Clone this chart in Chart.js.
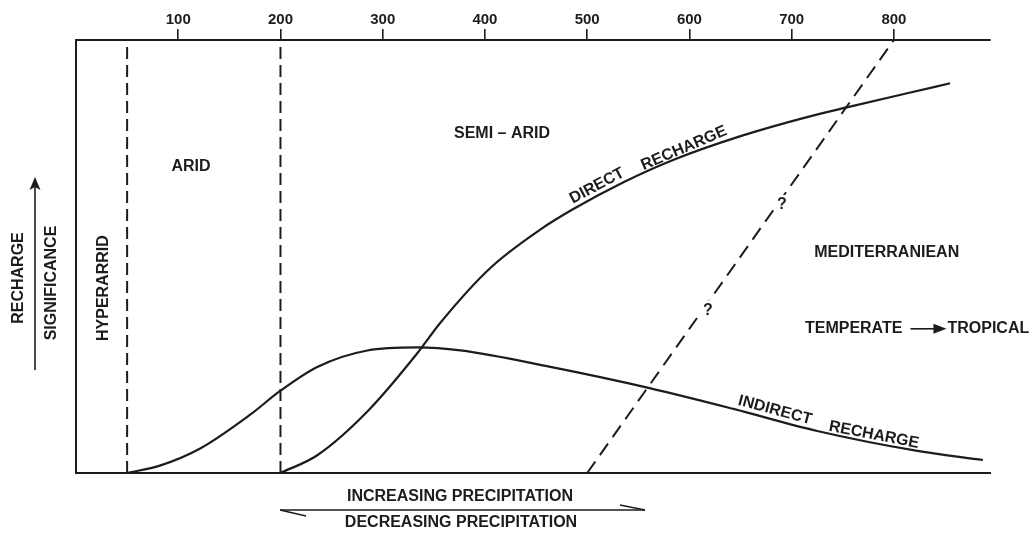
<!DOCTYPE html>
<html>
<head>
<meta charset="utf-8">
<script src="https://cdn.jsdelivr.net/npm/chart.js@4"></script>
<style>
  html, body { margin: 0; padding: 0; background: #fff; }
  #wrap { width: 1032px; height: 538px; }
</style>
</head>
<body>
<div id="wrap"><canvas id="c" width="1032" height="538"></canvas></div>
<script>
// ---- data ----
const xTickValues = [100, 200, 300, 400, 500, 600, 700, 800];
const indirectX = [50, 82, 121, 170, 200, 236, 285, 334, 376, 464, 561, 643, 725, 823, 887];
const indirectY = [0, 1.7, 5.6, 13.4, 19.0, 24.5, 28.3, 29.0, 28.3, 24.5, 19.6, 14.8, 9.7, 5.1, 3.0];
const directX = [200, 236, 285, 334, 356, 405, 454, 486, 535, 584, 650, 715, 757, 813, 855];
const directY = [0, 4.1, 14.2, 27.7, 34.6, 47.3, 56.2, 60.9, 67.1, 72.3, 77.8, 82.2, 84.6, 87.7, 90.0];
const boundaryHyperArid = [50, 50];
const boundaryArid = [200, 200];
const boundaryY = [0, 100];
const mediterraneanX = [500, 800];
const mediterraneanY = [0, 100];

const INK = '#1c1c1c';
const FONT = "bold 16px 'Liberation Sans', Arial, sans-serif";

function pts(xs, ys) { return xs.map((x, i) => ({ x: x, y: ys[i] })); }

const annot = {
  id: 'annot',
  afterDatasetsDraw(chart) {
    const ctx = chart.ctx;
    const sx = chart.scales.x, sy = chart.scales.y;
    const X = v => sx.getPixelForValue(v), Y = v => sy.getPixelForValue(v);
    ctx.save();
    ctx.fillStyle = INK; ctx.strokeStyle = INK;
    ctx.font = FONT;
    ctx.textBaseline = 'middle';
    function txt(s, x, y, rot, align) {
      ctx.save();
      ctx.translate(x, y);
      if (rot) ctx.rotate(rot * Math.PI / 180);
      ctx.textAlign = align || 'center';
      ctx.fillText(s, 0, 0);
      ctx.restore();
    }
    function qmark(x, y) {
      ctx.save();
      ctx.fillStyle = '#fff';
      ctx.fillRect(x - 7, y - 10, 14, 20);
      ctx.restore();
      txt('?', x, y);
    }
    // region labels (data coordinates)
    txt('ARID', X(112.5), Y(70.7));
    txt('SEMI \u2013 ARID', X(416.7), Y(78.5));
    txt('HYPERARRID', X(27.4), Y(42.7), -90);
    txt('MEDITERRANIEAN', X(793), Y(50.8));
    qmark(X(690.5), Y(61.9));
    qmark(X(618), Y(37.6));
    txt('DIRECT', X(509.6), Y(66.3), -28);
    txt('RECHARGE', X(594.7), Y(75.0), -23);
    txt('INDIRECT', X(683.7), Y(14.5), 15);
    txt('RECHARGE', X(780.5), Y(8.8), 11);
    // temperate -> tropical
    const ty = Y(33.3);
    const tx0 = X(713);
    txt('TEMPERATE', tx0, ty, 0, 'left');
    const tw = ctx.measureText('TEMPERATE').width;
    const a0 = tx0 + tw + 8, a1 = a0 + 36;
    ctx.lineWidth = 1.6;
    ctx.beginPath(); ctx.moveTo(a0, ty); ctx.lineTo(a1 - 10, ty); ctx.stroke();
    ctx.beginPath(); ctx.moveTo(a1, ty); ctx.lineTo(a1 - 13, ty - 5); ctx.lineTo(a1 - 13, ty + 5); ctx.closePath(); ctx.fill();
    txt('TROPICAL', a1 + 1, ty, 0, 'left');

    // outside-plot labels (left axis title)
    txt('RECHARGE', 19, 278, -90);
    txt('SIGNIFICANCE', 52, 283, -90);
    ctx.lineWidth = 1.6;
    ctx.beginPath(); ctx.moveTo(35, 370); ctx.lineTo(35, 186); ctx.stroke();
    ctx.beginPath(); ctx.moveTo(35, 177); ctx.lineTo(29.5, 190); ctx.lineTo(35, 187); ctx.lineTo(40.5, 190); ctx.closePath(); ctx.fill();

    // bottom precipitation arrow
    txt('INCREASING PRECIPITATION', 460, 497);
    txt('DECREASING PRECIPITATION', 461, 523);
    const by = 510;
    ctx.lineWidth = 1.5;
    ctx.beginPath(); ctx.moveTo(280, by); ctx.lineTo(645, by); ctx.stroke();
    ctx.beginPath(); ctx.moveTo(280, by); ctx.lineTo(306, by + 6); ctx.stroke();
    ctx.beginPath(); ctx.moveTo(645, by); ctx.lineTo(620, by - 5); ctx.stroke();
    ctx.restore();
  }
};

const lineStyle = {
  borderColor: INK, borderWidth: 2.2, pointRadius: 0, fill: false,
  cubicInterpolationMode: 'monotone', clip: false
};
const dashStyle = {
  borderColor: INK, borderWidth: 2, pointRadius: 0, fill: false,
  borderDash: [12, 6], tension: 0, clip: false
};

new Chart(document.getElementById('c'), {
  type: 'line',
  data: {
    datasets: [
      Object.assign({ label: 'Indirect recharge', data: pts(indirectX, indirectY) }, lineStyle),
      Object.assign({ label: 'Direct recharge', data: pts(directX, directY) }, lineStyle),
      Object.assign({ label: 'Hyperarid limit', data: pts(boundaryHyperArid, boundaryY) }, dashStyle),
      Object.assign({ label: 'Arid limit', data: pts(boundaryArid, boundaryY) }, dashStyle),
      Object.assign({ label: 'Mediterranean limit', data: pts(mediterraneanX, mediterraneanY) }, dashStyle, { borderDash: [14, 8] })
    ]
  },
  options: {
    responsive: false,
    animation: false,
    events: [],
    layout: { padding: { left: 0, right: 42, top: 0, bottom: 0 } },
    plugins: { legend: { display: false }, tooltip: { enabled: false } },
    scales: {
      x: {
        type: 'linear', position: 'top', min: 0, max: 894,
        afterBuildTicks: s => { s.ticks = xTickValues.map(v => ({ value: v })); },
        afterFit: s => { s.height = 40; },
        ticks: { color: INK, font: { family: "'Liberation Sans', Arial, sans-serif", size: 15, weight: 'bold' }, padding: 0, maxRotation: 0 },
        grid: { drawOnChartArea: false, drawTicks: true, tickLength: 11, color: INK, lineWidth: 1.6 },
        border: { display: true, color: INK, width: 2 }
      },
      x2: {
        type: 'linear', position: 'bottom', min: 0, max: 894,
        afterFit: s => { s.height = 65; },
        ticks: { display: false },
        grid: { display: false },
        border: { display: true, color: INK, width: 2 }
      },
      y: {
        type: 'linear', position: 'left', min: 0, max: 100,
        afterFit: s => { s.width = 76; },
        ticks: { display: false },
        grid: { display: false },
        border: { display: true, color: INK, width: 2 }
      }
    }
  },
  plugins: [annot]
});
</script>
</body>
</html>
